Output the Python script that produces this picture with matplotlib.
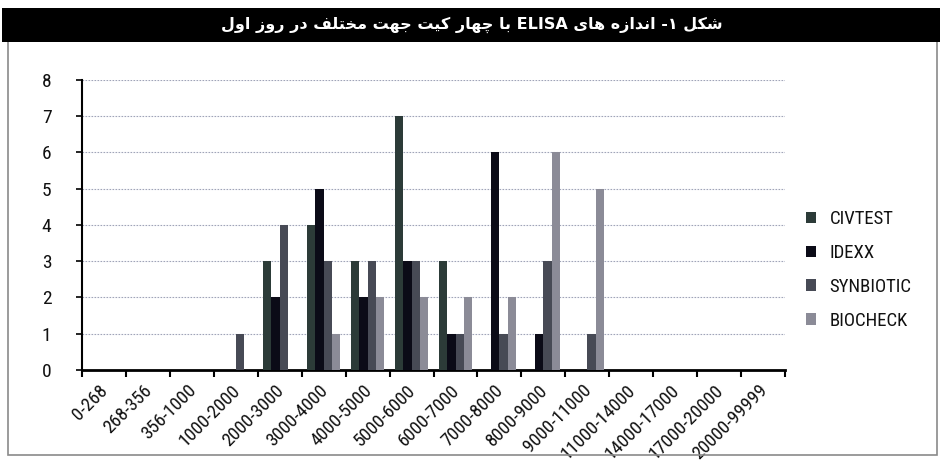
import matplotlib
matplotlib.use("Agg")
from matplotlib import pyplot as plt
from matplotlib.patches import Patch, Rectangle
from matplotlib.transforms import ScaledTranslation
import numpy as np

# ELISA results, day one
categories = ["0-268", "268-356", "356-1000", "1000-2000", "2000-3000", "3000-4000",
              "4000-5000", "5000-6000", "6000-7000", "7000-8000", "8000-9000",
              "9000-11000", "11000-14000", "14000-17000", "17000-20000", "20000-99999"]
civtest = [0, 0, 0, 0, 3, 4, 3, 7, 3, 0, 0, 0, 0, 0, 0, 0]
idexx = [0, 0, 0, 0, 2, 5, 2, 3, 1, 6, 1, 0, 0, 0, 0, 0]
synbiotic = [0, 0, 0, 1, 4, 3, 3, 3, 1, 1, 3, 1, 0, 0, 0, 0]
biocheck = [0, 0, 0, 0, 0, 1, 2, 2, 2, 2, 6, 5, 0, 0, 0, 0]
series_names = ["CIVTEST", "IDEXX", "SYNBIOTIC", "BIOCHECK"]
colors = ["#2c3b38", "#0b0b17", "#474a55", "#8b8b97"]
title = "شکل ۱- اندازه های ELISA با چهار کیت جهت مختلف در روز اول"

# minimal persian shaping (matplotlib has no bidi / joining)
FORMS = {
    "ا": (0xFE8D, 0xFE8E, None, None), "ب": (0xFE8F, 0xFE90, 0xFE91, 0xFE92),
    "ت": (0xFE95, 0xFE96, 0xFE97, 0xFE98), "ج": (0xFE9D, 0xFE9E, 0xFE9F, 0xFEA0),
    "چ": (0xFB7A, 0xFB7B, 0xFB7C, 0xFB7D), "خ": (0xFEA5, 0xFEA6, 0xFEA7, 0xFEA8),
    "د": (0xFEA9, 0xFEAA, None, None), "ر": (0xFEAD, 0xFEAE, None, None),
    "ز": (0xFEAF, 0xFEB0, None, None), "ش": (0xFEB5, 0xFEB6, 0xFEB7, 0xFEB8),
    "ف": (0xFED1, 0xFED2, 0xFED3, 0xFED4), "ک": (0xFB8E, 0xFB8F, 0xFB90, 0xFB91),
    "ل": (0xFEDD, 0xFEDE, 0xFEDF, 0xFEE0), "م": (0xFEE1, 0xFEE2, 0xFEE3, 0xFEE4),
    "ن": (0xFEE5, 0xFEE6, 0xFEE7, 0xFEE8), "ه": (0xFEE9, 0xFEEA, 0xFEEB, 0xFEEC),
    "و": (0xFEED, 0xFEEE, None, None), "ی": (0xFBFC, 0xFBFD, 0xFBFE, 0xFBFF),
}

def shape(word):
    out = []
    for i, c in enumerate(word):
        if c not in FORMS:
            out.append(c)
            continue
        iso, fin, ini, med = FORMS[c]
        p = word[i-1] if i > 0 else None
        n = word[i+1] if i+1 < len(word) else None
        jp = p in FORMS and FORMS[p][2] is not None
        jn = ini is not None and n in FORMS
        if jp and jn:
            out.append(chr(med))
        elif jp:
            out.append(chr(fin))
        elif jn:
            out.append(chr(ini))
        else:
            out.append(chr(iso))
    return "".join(out)

def visual(text):
    words = []
    for w in text.split(" "):
        if w.isascii():
            words.append(w)
        else:
            words.append(shape(w)[::-1])
    return " ".join(words[::-1])

cond = dict(family=["Roboto Condensed", "DejaVu Sans"], stretch="condensed")

fig = plt.figure(figsize=(9.43, 4.65), dpi=100)
fig.patch.set_facecolor("white")

# outer frame and black title band
fig.patches.append(Rectangle((0.0085, 0.022), 0.985, 0.89, transform=fig.transFigure,
                             fill=False, edgecolor="#8a8a8a", linewidth=1.2))
fig.patches.append(Rectangle((0.002, 0.9097), 0.995, 0.0731, transform=fig.transFigure,
                             facecolor="black", edgecolor="none"))
fig.text(0.5, 0.946, visual(title), color="white", fontsize=11.5, fontweight="bold",
         ha="center", va="center", family=["DejaVu Sans"])

ax = fig.add_axes([0.087, 0.2043, 0.7455, 0.6237])
x = np.arange(len(categories)) + 0.5
w = 0.19
data = [civtest, idexx, synbiotic, biocheck]
for k, (vals, name, col) in enumerate(zip(data, series_names, colors)):
    ax.bar(x + (k - 1.5) * w, vals, width=w, color=col, label=name, zorder=3)

ax.set_xlim(0, len(categories))
ax.set_ylim(0, 8)
ax.set_yticks(range(0, 9))
ax.set_yticklabels([str(v) for v in range(0, 9)], fontsize=14, color="#111111", **cond)
ax.yaxis.grid(True, linestyle=(0, (1.5, 1.2)), color="#a0a4b8", linewidth=0.8, zorder=0)
ax.tick_params(axis="y", length=4, width=1.2, pad=18)

ax.set_xticks(np.arange(0, len(categories) + 1))
ax.set_xticklabels([])
ax.set_xticks(x, minor=True)
ax.set_xticklabels(categories, minor=True, rotation=45, ha="right",
                   rotation_mode="anchor", fontsize=13.5, color="#111111", **cond)
ax.tick_params(axis="x", which="major", length=5, width=1.5, direction="out")
ax.tick_params(axis="x", which="minor", length=0, pad=8)
shift = ScaledTranslation(-5 / 100, 0, fig.dpi_scale_trans)
for lbl in ax.get_xticklabels(minor=True):
    lbl.set_transform(lbl.get_transform() + shift)

for s in ["top", "right"]:
    ax.spines[s].set_visible(False)
ax.spines["bottom"].set_linewidth(2)
ax.spines["left"].set_linewidth(1.5)

handles = [Patch(facecolor=c, edgecolor="none") for c in colors]
leg = fig.legend(handles, series_names, loc="upper left", bbox_to_anchor=(0.837, 0.585),
                 frameon=False, handlelength=0.55, handleheight=0.55, handletextpad=0.7,
                 labelspacing=0.85, prop=dict(size=13.5, **cond))
for t in leg.get_texts():
    t.set_color("#111111")

fig.savefig("out.png", dpi=100)
